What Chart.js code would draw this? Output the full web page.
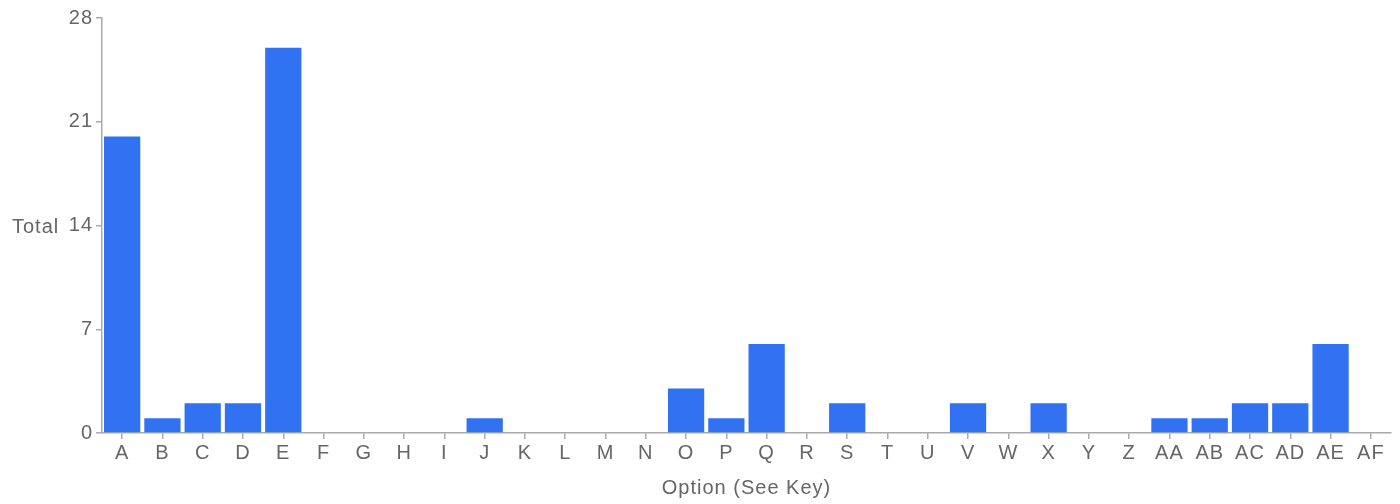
<!DOCTYPE html>
<html>
<head>
<meta charset="utf-8">
<script src="https://cdn.jsdelivr.net/npm/chart.js@4"></script>
<style>
  html, body { margin: 0; padding: 0; background: #fff; }
  #wrap { width: 1400px; height: 504px; position: relative; }
</style>
</head>
<body>
<div id="wrap"><canvas id="chart"></canvas></div>
<script>
const categories = ['A','B','C','D','E','F','G','H','I','J','K','L','M','N','O','P','Q','R','S','T','U','V','W','X','Y','Z','AA','AB','AC','AD','AE','AF'];
const totals = [20,1,2,2,26,0,0,0,0,1,0,0,0,0,3,1,6,0,2,0,0,2,0,2,0,0,1,1,2,2,6,0];
const yTicks = [0,7,14,21,28];
const yLabel = 'Total';
const xLabel = 'Option (See Key)';

const FONT = 'Arial, "Liberation Sans", sans-serif';
const GREY = '#666';
const SIZE = 20;

// a little letter spacing, the reference text is wider than plain Arial
const spacingPlugin = {
  id: 'spacing',
  beforeLayout(chart) { chart.ctx.letterSpacing = '1px'; },
  beforeDraw(chart) { chart.ctx.letterSpacing = '1px'; }
};

// horizontal y-axis label to the left of the ticks
const yLabelPlugin = {
  id: 'yLabel',
  afterDraw(chart) {
    const { ctx, chartArea } = chart;
    ctx.save();
    ctx.font = SIZE + 'px ' + FONT;
    ctx.fillStyle = GREY;
    ctx.textAlign = 'left';
    ctx.textBaseline = 'middle';
    ctx.fillText(yLabel, 12, (chartArea.top + chartArea.bottom) / 2 + 2);
    ctx.restore();
  }
};

new Chart(document.getElementById('chart'), {
  type: 'bar',
  data: {
    labels: categories,
    datasets: [{
      data: totals,
      backgroundColor: '#3172f3',
      barPercentage: 0.9,
      categoryPercentage: 1.0
    }]
  },
  options: {
    responsive: true,
    maintainAspectRatio: false,
    animation: false,
    layout: { padding: { top: 18, right: 9, left: 0, bottom: 0 } },
    plugins: { legend: { display: false }, tooltip: { enabled: false } },
    scales: {
      x: {
        grid: { display: true, offset: false, drawOnChartArea: false, drawTicks: true, tickLength: 6, color: '#aaa', lineWidth: 1.5 },
        border: { color: '#aaa', width: 1.5 },
        ticks: { color: GREY, font: { family: FONT, size: SIZE }, padding: 2, maxRotation: 0, autoSkip: false },
        title: { display: true, text: xLabel, color: GREY, font: { family: FONT, size: SIZE }, padding: { top: 8 } },
        afterFit(scale) { scale.height = 71; }
      },
      y: {
        min: 0,
        max: 28,
        afterBuildTicks(scale) { scale.ticks = yTicks.map(v => ({ value: v })); },
        grid: { display: true, drawOnChartArea: false, drawTicks: true, tickLength: 6, color: '#aaa', lineWidth: 1.5 },
        border: { color: '#aaa', width: 1.5 },
        ticks: { color: GREY, font: { family: FONT, size: SIZE }, padding: 3 },
        afterFit(scale) { scale.width = 102; }
      }
    }
  },
  plugins: [spacingPlugin, yLabelPlugin]
});
</script>
</body>
</html>
